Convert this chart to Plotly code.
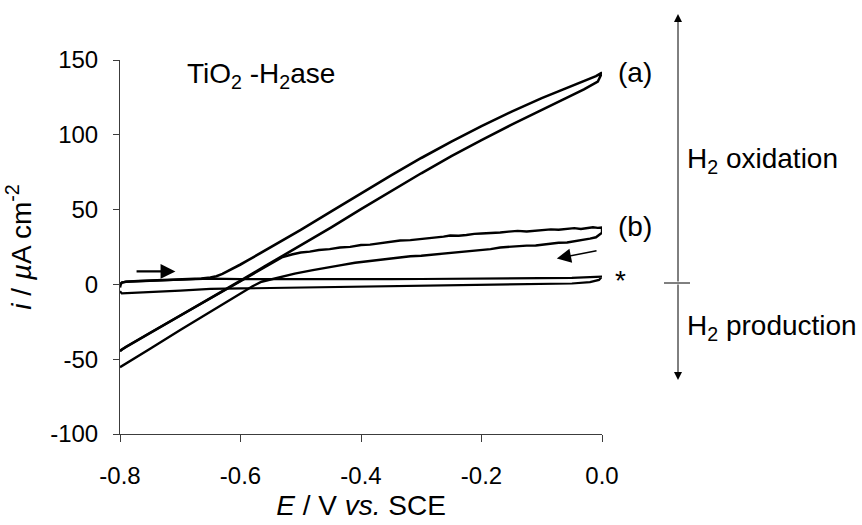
import plotly.graph_objects as go

# ---------------- data ----------------
# (a) TiO2-H2ase, forward (anodic) branch then reverse branch
a_fwd_E = [-0.800, -0.799, -0.797, -0.790, -0.770, -0.750, -0.720, -0.700, -0.680, -0.665,
           -0.650, -0.640, -0.630, -0.620, -0.610, -0.600, -0.588, -0.575, -0.560, -0.545,
           -0.531, -0.515, -0.500, -0.450, -0.400, -0.350, -0.300, -0.250, -0.200, -0.150,
           -0.100, -0.060, -0.030, -0.010, 0.000]
a_fwd_i = [-2.0, 0.0, 1.2, 1.8, 2.2, 2.5, 2.9, 3.2, 3.5, 3.9,
           4.6, 5.5, 7.0, 9.0, 11.0, 13.3, 16.0, 19.0, 22.5, 26.0,
           29.3, 33.0, 36.5, 48.7, 60.9, 72.9, 84.5, 95.5, 105.8, 115.5,
           124.5, 131.2, 136.0, 139.2, 141.5]
a_rev_E = [0.000, -0.007, -0.030, -0.060, -0.100, -0.150, -0.200, -0.250, -0.300, -0.350,
           -0.400, -0.450, -0.500, -0.534, -0.560, -0.600, -0.650, -0.700, -0.750, -0.790,
           -0.797, -0.800]
a_rev_i = [141.5, 135.5, 130.3, 124.5, 116.8, 106.8, 96.5, 85.7, 74.3, 62.4,
           50.3, 38.0, 26.0, 18.0, 12.0, 2.6, -9.0, -20.7, -32.3, -41.7,
           -43.5, -44.5]

# (b)
b_fwd_E = [-0.800, -0.797, -0.790, -0.750, -0.700, -0.650, -0.600, -0.570, -0.550, -0.540,
           -0.530, -0.515, -0.500, -0.485, -0.470, -0.452, -0.435, -0.418, -0.400, -0.385,
           -0.370, -0.352, -0.335, -0.318, -0.300, -0.287, -0.275, -0.263, -0.252, -0.238,
           -0.225, -0.212, -0.200, -0.185, -0.169, -0.155, -0.140, -0.125, -0.110, -0.097,
           -0.085, -0.072, -0.058, -0.046, -0.035, -0.025, -0.015, -0.007, 0.000]
b_fwd_i = [-44.5, -43.5, -41.7, -32.3, -20.7, -9.0, 2.6, 9.6, 14.0, 16.5,
           18.3, 20.0, 21.3, 21.9, 23.0, 23.6, 24.7, 25.1, 26.3, 26.6,
           27.5, 28.6, 29.3, 29.6, 30.3, 31.1, 31.6, 31.9, 32.7, 32.5,
           33.0, 33.8, 34.0, 34.2, 34.7, 35.3, 35.8, 35.4, 35.9, 36.6,
           36.8, 36.5, 37.3, 37.6, 37.0, 37.7, 38.2, 37.8, 38.0]
b_rev_E = [0.000, 0.000, -0.010, -0.020, -0.030, -0.045, -0.058, -0.072, -0.085, -0.097,
           -0.110, -0.125, -0.140, -0.155, -0.169, -0.185, -0.200, -0.225, -0.252, -0.275,
           -0.300, -0.318, -0.335, -0.358, -0.380, -0.410, -0.435, -0.460, -0.480, -0.510,
           -0.534, -0.550, -0.565, -0.580, -0.600, -0.650, -0.700, -0.750, -0.790, -0.797,
           -0.800]
b_rev_i = [38.0, 34.5, 31.5, 30.6, 29.8, 28.6, 28.0, 27.8, 27.2, 26.3,
           26.0, 25.9, 25.5, 24.8, 24.7, 23.6, 23.0, 22.2, 20.7, 20.1,
           19.2, 18.8, 18.0, 16.9, 15.8, 14.5, 12.7, 11.2, 9.5, 7.2,
           4.9, 3.3, 1.8, -1.2, -6.0, -18.5, -30.5, -43.0, -52.5, -54.5,
           -55.3]

# (*) control
s_up_E = [-0.800, -0.799, -0.797, -0.790, -0.770, -0.750, -0.720, -0.700, -0.680, -0.650,
          -0.600, -0.550, -0.500, -0.450, -0.400, -0.350, -0.300, -0.250, -0.200, -0.150,
          -0.100, -0.050, -0.020, 0.000]
s_up_i = [-1.0, 0.5, 1.2, 1.8, 2.2, 2.5, 2.9, 3.2, 3.5, 3.8,
          3.5, 3.4, 3.3, 3.3, 3.4, 3.5, 3.6, 3.7, 3.8, 3.9,
          4.1, 4.4, 4.8, 5.2]
s_lo_E = [0.000, -0.005, -0.020, -0.050, -0.100, -0.150, -0.200, -0.250, -0.300, -0.350,
          -0.400, -0.450, -0.500, -0.550, -0.600, -0.650, -0.700, -0.750, -0.790, -0.797,
          -0.800]
s_lo_i = [5.2, 3.0, 1.5, 0.6, 0.3, 0.2, 0.0, -0.2, -0.9, -1.2,
          -1.5, -1.8, -2.0, -2.2, -2.4, -3.0, -4.1, -5.0, -5.8, -6.0,
          -4.5]

x_tick_vals = [-0.8, -0.6, -0.4, -0.2, 0.0]
x_tick_text = ["-0.8", "-0.6", "-0.4", "-0.2", "0.0"]
y_tick_vals = [-100, -50, 0, 50, 100, 150]
y_tick_text = ["-100", "-50", "0", "50", "100", "150"]

# ---------------- figure ----------------
W, H = 862, 525
L, R, T, B = 120, 260, 60, 91


def px_x(x):
    return (x - L) / (W - L - R)


def px_y(y):
    return (H - B - y) / (H - T - B)


fig = go.Figure()
curves = [
    (a_fwd_E + a_rev_E, a_fwd_i + a_rev_i, 2.6),
    (b_fwd_E + b_rev_E, b_fwd_i + b_rev_i, 2.4),
    (s_up_E + s_lo_E, s_up_i + s_lo_i, 2.2),
]
for E, I, w in curves:
    fig.add_trace(go.Scatter(x=E, y=I, mode="lines",
                             line=dict(color="black", width=w),
                             hoverinfo="skip", showlegend=False))

FONT = "Liberation Sans, Arial, Helvetica, sans-serif"
axcol = "#3c3c3c"
fig.update_layout(
    width=W, height=H,
    margin=dict(l=L, r=R, t=T, b=B, pad=0),
    paper_bgcolor="white", plot_bgcolor="white",
    font=dict(family=FONT, color="black", size=24),
    showlegend=False,
)
fig.update_xaxes(range=[-0.8, 0.0], tickvals=x_tick_vals, ticktext=x_tick_text,
                 showline=True, linecolor=axcol, linewidth=1,
                 ticks="outside", ticklen=7, tickwidth=1, tickcolor=axcol,
                 showgrid=False, zeroline=False, automargin=False,
                 tickfont=dict(size=24, family=FONT), ticklabelstandoff=13,
                 title=dict(text="<i>E</i> / V <i>vs.</i> SCE",
                            font=dict(size=28, family=FONT), standoff=7))
fig.update_yaxes(range=[-100, 150], tickvals=y_tick_vals, ticktext=y_tick_text,
                 showline=True, linecolor=axcol, linewidth=1,
                 ticks="outside", ticklen=6, tickwidth=1, tickcolor=axcol,
                 showgrid=False, zeroline=False, automargin=False,
                 tickfont=dict(size=24, family=FONT), ticklabelstandoff=10,
                 title=dict(text="<i>i</i> / <i>µ</i>A cm<sup>-2</sup>",
                            font=dict(size=28, family=FONT), standoff=10))

# scan-direction arrows inside the plot
fig.add_annotation(x=-0.708, y=8.7, ax=-0.775, ay=8.7, xref="x", yref="y",
                   axref="x", ayref="y", text="", showarrow=True, arrowhead=2,
                   arrowsize=1.35, arrowwidth=2.2, arrowcolor="black", standoff=0)
fig.add_annotation(x=-0.075, y=17.3, ax=-0.0066, ay=22.7, xref="x", yref="y",
                   axref="x", ayref="y", text="", showarrow=True, arrowhead=2,
                   arrowsize=1.9, arrowwidth=1.5, arrowcolor="black", standoff=0)

# labels
def label(text, x, y, size=28):
    fig.add_annotation(x=px_x(x), y=px_y(y), xref="paper", yref="paper",
                       text=text, showarrow=False, xanchor="left", yanchor="middle",
                       font=dict(size=size, family=FONT, color="black"))

label("TiO<sub>2</sub> -H<sub>2</sub>ase", 185, 76)
label("(a)", 616, 72)
label("(b)", 616, 226)
label("*", 613, 280)
label("H<sub>2</sub> oxidation", 685, 160)
label("H<sub>2</sub> production", 685, 327)

# oxidation / production double arrow
xa = px_x(678)
fig.add_annotation(x=xa, y=px_y(14), xref="paper", yref="paper", ax=0, ay=269,
                   text="", showarrow=True, arrowhead=2, arrowsize=1.6,
                   arrowwidth=1, arrowcolor="black", standoff=0)
fig.add_annotation(x=xa, y=px_y(380), xref="paper", yref="paper", ax=0, ay=-97,
                   text="", showarrow=True, arrowhead=2, arrowsize=1.6,
                   arrowwidth=1, arrowcolor="black", standoff=0)
fig.add_shape(type="line", xref="paper", yref="paper",
              x0=px_x(664), x1=px_x(690), y0=px_y(283), y1=px_y(283),
              line=dict(color="black", width=1))

fig.write_html("out.html")
